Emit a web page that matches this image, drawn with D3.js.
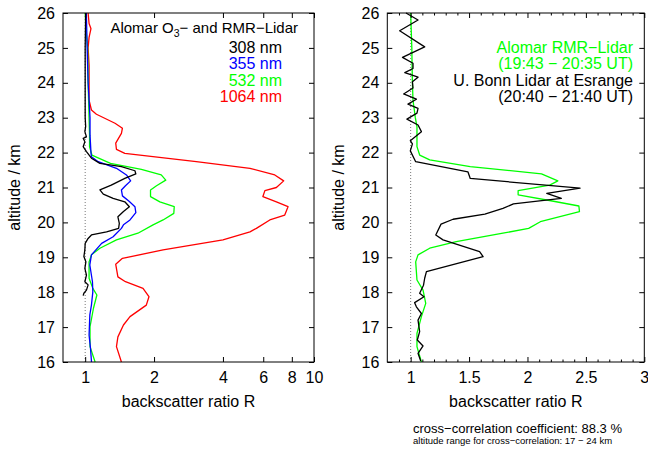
<!DOCTYPE html>
<html>
<head>
<meta charset="utf-8">
<script src="https://cdn.jsdelivr.net/npm/d3@7"></script>
<style>
  body { margin: 0; background: #fff; }
  text { font-family: "Liberation Sans", Arial, sans-serif; }
</style>
</head>
<body>
<main></main>
<script>
// altitude ticks and x ticks
const altTicks = [16, 17, 18, 19, 20, 21, 22, 23, 24, 25, 26];
const leftXTicks = [1, 2, 4, 6, 8, 10];
const rightXTicks = [1, 1.5, 2, 2.5, 3];

// Alomar O3- and RMR-Lidar, [altitude km, backscatter ratio]
const r308 = [
  [26.0, 1.005], [25.0, 1.0], [24.0, 1.0], [23.0, 1.0], [22.75, 1.005], [22.6, 0.997],
  [22.45, 1.013], [22.41, 0.98], [22.31, 0.997], [22.17, 0.98], [22.03, 1.013],
  [21.84, 1.065], [21.69, 1.16], [21.6, 1.44], [21.48, 1.65], [21.39, 1.665],
  [21.26, 1.49], [21.07, 1.3], [20.93, 1.16], [20.81, 1.2], [20.69, 1.325],
  [20.59, 1.49], [20.45, 1.56], [20.31, 1.47], [20.16, 1.39], [19.97, 1.41],
  [19.83, 1.4], [19.73, 1.24], [19.64, 1.065], [19.54, 1.03], [19.4, 1.0],
  [19.21, 0.997], [19.02, 0.987], [18.87, 1.007], [18.68, 0.997], [18.49, 1.013],
  [18.3, 0.997], [18.21, 1.03], [18.06, 1.013], [17.97, 0.987], [17.9, 0.98]
];
const r355 = [
  [26.0, 1.012], [25.0, 1.02], [24.0, 1.03], [23.5, 1.04], [23.0, 1.05], [22.5, 1.05],
  [22.0, 1.06], [21.88, 1.065], [21.74, 1.14], [21.55, 1.37], [21.36, 1.515],
  [21.19, 1.58], [21.05, 1.5], [20.93, 1.44], [20.76, 1.455], [20.6, 1.56],
  [20.45, 1.65], [20.28, 1.665], [20.07, 1.57], [19.93, 1.47], [19.83, 1.44],
  [19.59, 1.325], [19.4, 1.18], [19.07, 1.065], [18.78, 1.048], [18.3, 1.076],
  [18.01, 1.08], [17.63, 1.065], [17.35, 1.048], [16.77, 1.04], [16.39, 1.055],
  [16.03, 1.065], [16.0, 1.066]
];
const r532 = [
  [26.0, 1.0], [25.5, 1.01], [25.0, 1.025], [24.0, 1.03], [23.5, 1.035], [23.0, 1.04],
  [22.5, 1.045], [22.17, 1.045], [21.93, 1.07], [21.69, 1.29], [21.52, 1.76],
  [21.36, 2.15], [21.21, 2.25], [21.05, 2.05], [20.93, 1.93], [20.74, 1.93],
  [20.59, 2.12], [20.45, 2.45], [20.26, 2.44], [20.07, 2.19], [19.93, 1.98],
  [19.69, 1.7], [19.5, 1.37], [19.26, 1.16], [19.07, 1.065], [18.87, 1.04],
  [18.4, 1.04], [18.11, 1.08], [17.92, 1.125], [17.54, 1.087], [17.01, 1.05],
  [16.44, 1.05], [16.0, 1.105]
];
const r1064 = [
  [26.0, 1.03], [25.7, 1.04], [25.55, 1.06], [25.3, 1.04], [25.0, 1.03], [24.5, 1.04],
  [24.0, 1.04], [23.5, 1.04], [23.22, 1.065], [23.1, 1.12], [22.84, 1.35],
  [22.7, 1.455], [22.55, 1.44], [22.27, 1.36], [22.09, 1.37], [21.98, 1.49],
  [21.74, 3.06], [21.55, 5.25], [21.36, 6.74], [21.19, 7.37], [21.0, 6.85],
  [20.91, 6.1], [20.74, 5.98], [20.59, 6.85], [20.45, 7.7], [20.21, 7.45],
  [20.07, 6.41], [19.83, 5.6], [19.73, 5.25], [19.5, 4.0], [19.21, 2.19],
  [18.97, 1.455], [18.8, 1.36], [18.44, 1.39], [18.3, 1.5], [18.11, 1.79],
  [17.87, 1.9], [17.63, 1.85], [17.3, 1.57], [17.06, 1.47], [16.72, 1.39],
  [16.44, 1.37], [16.0, 1.44]
];

// Alomar RMR vs U. Bonn at Esrange
const rmrAlomar = [
  [26.0, 1.0], [25.5, 1.005], [25.0, 1.01], [24.5, 1.012], [24.0, 1.015], [23.5, 1.02],
  [23.0, 1.04], [22.74, 1.054], [22.17, 1.054], [21.93, 1.077], [21.79, 1.163],
  [21.6, 1.51], [21.39, 2.12], [21.19, 2.26], [21.07, 2.19], [20.91, 1.92],
  [20.79, 1.92], [20.62, 2.2], [20.47, 2.44], [20.31, 2.445], [20.02, 2.11],
  [19.83, 2.01], [19.69, 1.79], [19.45, 1.39], [19.26, 1.163], [19.07, 1.063],
  [18.87, 1.043], [18.35, 1.054], [18.06, 1.106], [17.68, 1.129], [17.3, 1.092],
  [16.82, 1.054], [16.44, 1.054], [16.0, 1.092]
];
const bonnEsrange = [
  [26.0, 0.96], [25.8, 1.063], [25.49, 0.906], [25.03, 1.12], [24.73, 0.93],
  [24.56, 1.02], [24.41, 1.02], [24.29, 0.95], [24.16, 1.063], [24.03, 1.015],
  [23.85, 1.02], [23.68, 0.94], [23.53, 1.049], [23.39, 0.977], [23.27, 1.063],
  [23.13, 1.054], [22.96, 0.968], [22.79, 1.063], [22.6, 1.092], [22.34, 0.997],
  [22.25, 1.015], [22.05, 0.997], [21.74, 1.043], [21.45, 1.49], [21.26, 1.51],
  [20.98, 2.45], [20.83, 2.165], [20.69, 2.29], [20.53, 1.88], [20.4, 1.79],
  [20.24, 1.635], [20.09, 1.363], [19.95, 1.26], [19.64, 1.215], [19.5, 1.277],
  [19.16, 1.59], [19.02, 1.62], [18.59, 1.135], [18.4, 1.12], [18.2, 1.11],
  [17.97, 1.077], [17.87, 1.114], [17.7, 1.034], [17.58, 1.049], [17.39, 1.092],
  [17.2, 1.063], [16.87, 1.077], [16.63, 1.057], [16.46, 1.106], [16.25, 1.063],
  [16.03, 1.086]
];

const width = 648, height = 452;
const plotTop = 13, plotBottom = 362;

const svg = d3.select("main").append("svg")
  .attr("width", width)
  .attr("height", height);

const y = d3.scaleLinear().domain([16, 26]).range([plotBottom, plotTop]);

function drawPanel(x, x0, x1, ticks, minorTicks, series, fmt) {
  const g = svg.append("g");

  // dotted line at R = 1
  g.append("line")
    .attr("x1", x(1)).attr("x2", x(1))
    .attr("y1", plotTop).attr("y2", plotBottom)
    .attr("stroke", "#777")
    .attr("stroke-width", 1)
    .attr("stroke-dasharray", "1,2");

  const line = d3.line().x(d => x(d[1])).y(d => y(d[0]));
  series.forEach(s => {
    g.append("path")
      .attr("d", line(s.data))
      .attr("fill", "none")
      .attr("stroke", s.color)
      .attr("stroke-width", 1.3)
      .attr("stroke-linejoin", "round");
  });

  // axes, ticks pointing inward
  g.append("g").attr("transform", `translate(${x0},0)`)
    .call(d3.axisLeft(y).tickValues(altTicks).tickSize(-5).tickPadding(8).tickFormat(d3.format("d")));
  g.append("g").attr("transform", `translate(${x1},0)`)
    .call(d3.axisRight(y).tickValues(altTicks).tickSize(-5).tickFormat(""));
  g.append("g").attr("transform", `translate(0,${plotBottom})`)
    .call(d3.axisBottom(x).tickValues(ticks).tickSize(-5).tickPadding(10).tickFormat(fmt));
  g.append("g").attr("transform", `translate(0,${plotTop})`)
    .call(d3.axisTop(x).tickValues(ticks).tickSize(-5).tickFormat(""));
  if (minorTicks.length) {
    g.append("g").attr("transform", `translate(0,${plotBottom})`)
      .call(d3.axisBottom(x).tickValues(minorTicks).tickSize(-2.5).tickFormat(""));
    g.append("g").attr("transform", `translate(0,${plotTop})`)
      .call(d3.axisTop(x).tickValues(minorTicks).tickSize(-2.5).tickFormat(""));
  }
  g.selectAll(".domain").remove();
  g.selectAll(".tick line").attr("stroke", "#000");
  g.selectAll(".tick text")
    .attr("font-size", 16)
    .attr("fill", "#000")
    .attr("font-family", "Liberation Sans, Arial, sans-serif");

  g.append("rect")
    .attr("x", x0).attr("y", plotTop)
    .attr("width", x1 - x0).attr("height", plotBottom - plotTop)
    .attr("fill", "none")
    .attr("stroke", "#000")
    .attr("stroke-width", 1);

  // axis titles
  g.append("text")
    .attr("x", (x0 + x1) / 2)
    .attr("y", 407)
    .attr("text-anchor", "middle")
    .attr("font-size", 16)
    .text("backscatter ratio R");
  g.append("text")
    .attr("transform", `translate(${x0 - 43},${(plotTop + plotBottom) / 2}) rotate(-90)`)
    .attr("text-anchor", "middle")
    .attr("font-size", 16)
    .text("altitude / km");
  return g;
}

// left panel: log scale
const xL = d3.scaleLog().domain([0.8, 10]).range([63, 314]);
drawPanel(xL, 63, 314, leftXTicks, [], [
  { data: r1064, color: "#ff0000" },
  { data: r532, color: "#00ff00" },
  { data: r355, color: "#0000ff" },
  { data: r308, color: "#000000" }
], d3.format("d"));

// right panel: linear scale
const xR = d3.scaleLinear().domain([0.8, 3]).range([387.3, 644.3]);
const minorR = d3.range(0.9, 3.0, 0.1).filter(v => Math.abs(v * 2 - Math.round(v * 2)) > 0.01);
drawPanel(xR, 387.3, 644.3, rightXTicks, minorR, [
  { data: rmrAlomar, color: "#00ff00" },
  { data: bonnEsrange, color: "#000000" }
], d => d3.format("")(d));

// legend left
const legL = svg.append("g").attr("font-size", 16).attr("text-anchor", "end");
const title = legL.append("text").attr("x", 298).attr("y", 33).attr("font-size", 15);
title.append("tspan").text("Alomar O");
title.append("tspan").attr("font-size", 10.5).attr("dy", 4).text("3");
title.append("tspan").attr("dy", -4).text("\u2212 and RMR\u2212Lidar");
legL.append("text").attr("x", 282).attr("y", 52.5).attr("fill", "#000").text("308 nm");
legL.append("text").attr("x", 282).attr("y", 69).attr("fill", "#0000ff").text("355 nm");
legL.append("text").attr("x", 282).attr("y", 85.5).attr("fill", "#00ff00").text("532 nm");
legL.append("text").attr("x", 282).attr("y", 102).attr("fill", "#ff0000").text("1064 nm");

// legend right
const legR = svg.append("g").attr("font-size", 16).attr("text-anchor", "end");
legR.append("text").attr("x", 633).attr("y", 52.5).attr("fill", "#00ff00").text("Alomar RMR\u2212Lidar");
legR.append("text").attr("x", 633).attr("y", 69).attr("fill", "#00ff00").text("(19:43 \u2212 20:35 UT)");
legR.append("text").attr("x", 633).attr("y", 85.5).attr("fill", "#000").text("U. Bonn Lidar at Esrange");
legR.append("text").attr("x", 633).attr("y", 102).attr("fill", "#000").text("(20:40 \u2212 21:40 UT)");

// notes below right panel
svg.append("text").attr("x", 413).attr("y", 432.5).attr("font-size", 13)
  .text("cross\u2212correlation coefficient: 88.3 %");
svg.append("text").attr("x", 413).attr("y", 444).attr("font-size", 9.5)
  .text("altitude range for cross\u2212correlation: 17 \u2212 24 km");
</script>
</body>
</html>
